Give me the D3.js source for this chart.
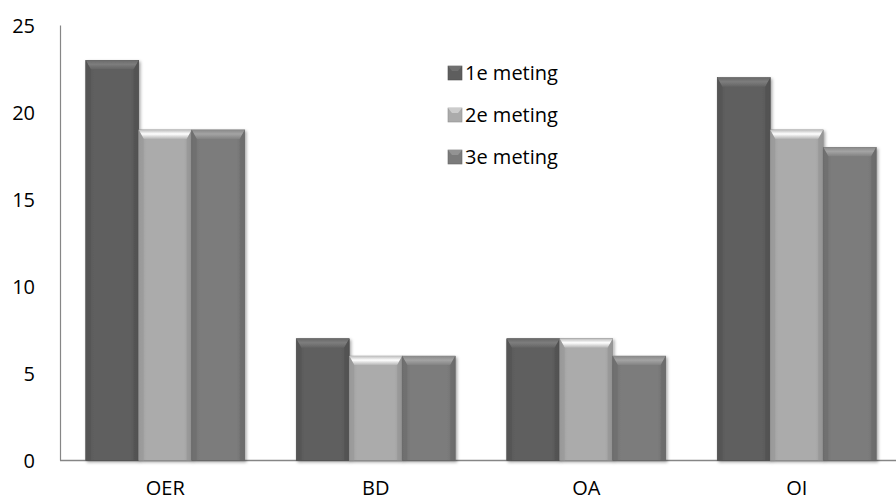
<!DOCTYPE html>
<html><head><meta charset="utf-8">
<script src="https://cdn.jsdelivr.net/npm/d3@7"></script>
<style>body{margin:0;background:#fff}svg{display:block}</style>
</head><body><svg id="c" width="896" height="504"></svg>
<script>
const categories = ["OER","BD","OA","OI"];
const seriesNames = ["1e meting","2e meting","3e meting"];
const meting1 = [23,7,7,22];
const meting2 = [19,6,7,19];
const meting3 = [19,6,6,18];
const yTicks = [0,5,10,15,20,25];
const colors = ["#5e5e5e","#ababab","#7b7b7b"];
const series = [meting1, meting2, meting3];

const svg = d3.select("#c");
const font = "'Open Sans', 'DejaVu Sans', sans-serif";
const defs = svg.append("defs");
const f = defs.append("filter").attr("id","sh").attr("x","-20%").attr("y","-20%").attr("width","140%").attr("height","140%");
f.append("feDropShadow").attr("dx",1.5).attr("dy",1.5).attr("stdDeviation",1.5).attr("flood-color","#000").attr("flood-opacity",0.35);

const x = d3.scaleBand().domain(categories).range([60, 902]).padding(0);
const xs = d3.scaleBand().domain(d3.range(3)).range([0, x.bandwidth()]).paddingInner(0).paddingOuter(0.486);
const y = d3.scaleLinear().domain([0,25]).range([460.5, 25.5]);

function shade(c,k){return d3.color(c).brighter(k).formatHex();}
function dark(c,k){return d3.color(c).darker(k).formatHex();}

colors.forEach((c,i)=>{
  const g = defs.append("linearGradient").attr("id","body"+i).attr("x1",0).attr("x2",1).attr("y1",0).attr("y2",0);
  g.append("stop").attr("offset","0").attr("stop-color",dark(c,0.25));
  g.append("stop").attr("offset","0.15").attr("stop-color",c);
  g.append("stop").attr("offset","0.85").attr("stop-color",c);
  g.append("stop").attr("offset","1").attr("stop-color",dark(c,0.3));
  const t = defs.append("linearGradient").attr("id","top"+i).attr("x1",0).attr("x2",0).attr("y1",0).attr("y2",1);
  t.append("stop").attr("offset","0").attr("stop-color",shade(c,0.3));
  t.append("stop").attr("offset","0.45").attr("stop-color",shade(c, i===1?1.2:0.8));
  t.append("stop").attr("offset","1").attr("stop-color",shade(c,0.15));
});

svg.append("line").attr("x1",60.5).attr("x2",60.5).attr("y1",y(25)).attr("y2",y(0)).attr("stroke","#868686").attr("stroke-width",1.2);
svg.append("line").attr("x1",60).attr("x2",896).attr("y1",y(0)).attr("y2",y(0)).attr("stroke","#868686").attr("stroke-width",1.5);

const yAxis = d3.axisLeft(y).tickValues(yTicks).tickSize(0).tickPadding(0);
const ga = svg.append("g").attr("transform","translate(35,0)").call(yAxis);
ga.select(".domain").remove();
ga.selectAll("text").attr("font-family",font).attr("font-size",20).attr("fill","#000").attr("dy","0.35em").attr("dx",0);

const xAxis = d3.axisBottom(x).tickSize(0).tickPadding(0);
const gx = svg.append("g").attr("transform","translate(0,478)").call(xAxis);
gx.select(".domain").remove();
gx.selectAll("text").attr("font-family",font).attr("font-size",20).attr("fill","#000").attr("dy","0.85em");

const bars = [];
categories.forEach((cat,ci)=>{
  series.forEach((s,si)=>{ bars.push({cat, si, v:s[ci]}); });
});
const g = svg.append("g");
bars.forEach(d=>{
  const x0 = x(d.cat)+xs(d.si), w = xs.bandwidth(), y0 = y(d.v), h = y(0)-y(d.v);
  const c = colors[d.si];
  const bg = g.append("g").attr("filter","url(#sh)");
  bg.append("rect").attr("x",x0).attr("y",y0).attr("width",w).attr("height",h).attr("fill","url(#body"+d.si+")").attr("stroke",dark(c,0.6)).attr("stroke-width",0.6);
  const b=9, s=5;
  bg.append("polygon").attr("points",[[x0,y0],[x0+w,y0],[x0+w-s,y0+b],[x0+s,y0+b]].map(p=>p.join(",")).join(" ")).attr("fill","url(#top"+d.si+")");
  bg.append("polygon").attr("points",[[x0,y0],[x0+s,y0+b],[x0+s,y0+h],[x0,y0+h]].map(p=>p.join(",")).join(" ")).attr("fill",dark(c,0.35)).attr("opacity",0.6);
  bg.append("polygon").attr("points",[[x0+w,y0],[x0+w-s,y0+b],[x0+w-s,y0+h],[x0+w,y0+h]].map(p=>p.join(",")).join(" ")).attr("fill",dark(c,0.45)).attr("opacity",0.6);
});

const lg = svg.append("g").attr("transform","translate(448,73)");
seriesNames.forEach((n,i)=>{
  const r = lg.append("g").attr("transform",`translate(0,${i*42})`);
  r.append("rect").attr("x",0).attr("y",-7).attr("width",14).attr("height",14).attr("fill",colors[i]).attr("stroke",dark(colors[i],0.5)).attr("stroke-width",0.6);
  r.append("polygon").attr("points","0,-7 14,-7 10,-2 4,-2").attr("fill",shade(colors[i],0.5));
  r.append("text").attr("x",17).attr("y",0).attr("dy","0.35em").attr("font-family",font).attr("font-size",20).attr("fill","#000").text(n);
});
</script></body></html>
